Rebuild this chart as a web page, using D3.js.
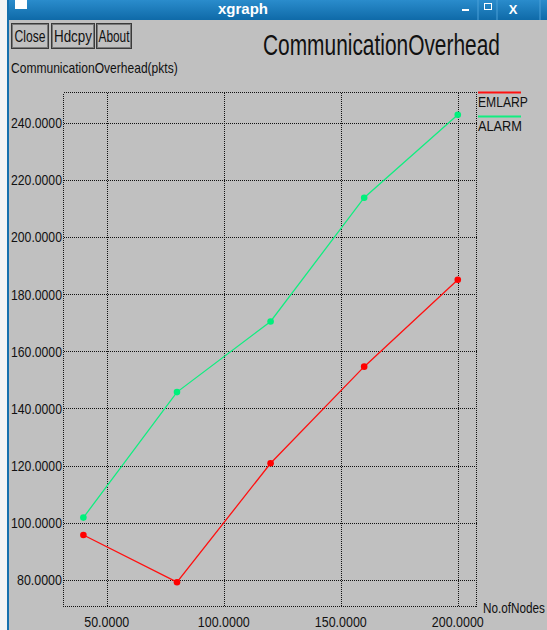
<!DOCTYPE html>
<html>
<head>
<meta charset="utf-8">
<script src="https://cdn.jsdelivr.net/npm/d3@7"></script>
<style>
  html, body { margin: 0; padding: 0; background: #f2f2f2; overflow: hidden; }
  svg { display: block; }
  text { font-family: "Liberation Sans", Arial, sans-serif; fill: #111; }
</style>
</head>
<body>
<svg id="win" width="547" height="630"></svg>
<script>
// Node counts on the x axis
const nodeCounts = [40, 80, 120, 160, 200];
// Communication overhead (packets) per protocol
const emlarp = [95.7, 79.2, 120.8, 154.6, 185.0];
const alarm  = [101.8, 145.7, 170.4, 213.7, 242.7];
const seriesNames = ["EMLARP", "ALARM"];
const seriesColors = ["#ff1010", "#10ee80"];
const xTicks = [50, 100, 150, 200];
const yTicks = [80, 100, 120, 140, 160, 180, 200, 220, 240];
const xDomain = [31.5, 208];
const yDomain = [70.7, 250.5];

const svg = d3.select("#win");
const W = 547, H = 630;

// Draws a text condensed horizontally to a given width (xgraph fonts are narrow)
function narrowText(parent, str, x, y, size, width, anchor) {
  const g = parent.append("g");
  const t = g.append("text").attr("x", 0).attr("y", 0).style("font-size", size + "px").text(str);
  const natural = t.node().getComputedTextLength();
  const sx = width / natural;
  const left = anchor === "end" ? x - width : anchor === "middle" ? x - width / 2 : x;
  g.attr("transform", `translate(${left},${y}) scale(${sx},1)`);
  return t;
}

// Window chrome
const defs = svg.append("defs");
const grad = defs.append("linearGradient").attr("id", "bar").attr("x1", 0).attr("y1", 0).attr("x2", 0).attr("y2", 1);
grad.append("stop").attr("offset", "0%").attr("stop-color", "#2a8ccc");
grad.append("stop").attr("offset", "100%").attr("stop-color", "#0f6aa8");

svg.append("rect").attr("x", 0).attr("y", 0).attr("width", W).attr("height", H).attr("fill", "#f4f4f4");
svg.append("rect").attr("x", 9).attr("y", 20).attr("width", W - 9).attr("height", H - 20).attr("fill", "#c0c0c0");
svg.append("rect").attr("x", 7).attr("y", 0).attr("width", W - 7).attr("height", 20).attr("fill", "url(#bar)");
svg.append("rect").attr("x", 7).attr("y", 0).attr("width", 2).attr("height", H).attr("fill", "#1670ad");
svg.append("rect").attr("x", 15).attr("y", 0).attr("width", 12).attr("height", 9).attr("fill", "#ffffff");
svg.append("text").attr("x", 243).attr("y", 14).attr("text-anchor", "middle")
  .style("font-size", "15px").style("font-weight", "bold").style("fill", "#fff").text("xgraph");
// title bar controls
[478, 497, 540].forEach(xp => {
  svg.append("line").attr("x1", xp).attr("x2", xp).attr("y1", 0).attr("y2", 20)
    .attr("stroke", "#4aa0d8").attr("stroke-width", 1);
});
svg.append("rect").attr("x", 462).attr("y", 9).attr("width", 7).attr("height", 2).attr("fill", "#fff");
svg.append("rect").attr("x", 484.5).attr("y", 3.5).attr("width", 7).attr("height", 6).attr("fill", "none").attr("stroke", "#fff").attr("stroke-width", 1);
svg.append("text").attr("x", 513).attr("y", 14).attr("text-anchor", "middle")
  .style("font-size", "13px").style("font-weight", "bold").style("fill", "#fff").text("X");

// Buttons
const buttons = [
  { label: "Close", x: 11, w: 37, tl: 31 },
  { label: "Hdcpy", x: 51, w: 43, tl: 38 },
  { label: "About", x: 96, w: 35, tl: 31 }
];
buttons.forEach(b => {
  svg.append("rect").attr("x", b.x + 0.5).attr("y", 23.5).attr("width", b.w).attr("height", 25)
    .attr("fill", "#c0c0c0").attr("stroke", "#3a3a3a").attr("stroke-width", 1);
  svg.append("rect").attr("x", b.x + 1.5).attr("y", 24.5).attr("width", b.w - 2).attr("height", 23)
    .attr("fill", "none").attr("stroke", "#7a7a7a").attr("stroke-width", 1);
  narrowText(svg, b.label, b.x + b.w / 2 + 0.5, 42, 16, b.tl, "middle");
});

// Titles
narrowText(svg, "CommunicationOverhead", 263, 55, 29, 237, "start");
narrowText(svg, "CommunicationOverhead(pkts)", 11, 73, 14, 167, "start");

// Scales
const x = d3.scaleLinear().domain(xDomain).range([63.5, 476.5]);
const y = d3.scaleLinear().domain(yDomain).range([606.5, 92.5]);
const [x0, x1] = x.range();
const [y0, y1] = y.range();
const fmt = d3.format(".4f");

const grid = svg.append("g").attr("shape-rendering", "crispEdges");
const dotted = sel => sel.attr("stroke", "#111").attr("stroke-width", 1).attr("stroke-dasharray", "1,1");

// Frame
grid.append("rect").attr("x", x0).attr("y", y1).attr("width", x1 - x0).attr("height", y0 - y1)
  .attr("fill", "none").call(dotted);

// Gridlines
grid.selectAll(".vg").data(xTicks).join("line").attr("class", "vg")
  .attr("x1", d => Math.round(x(d)) + 0.5).attr("x2", d => Math.round(x(d)) + 0.5)
  .attr("y1", y1).attr("y2", y0).call(dotted);
grid.selectAll(".hg").data(yTicks).join("line").attr("class", "hg")
  .attr("y1", d => Math.round(y(d)) + 0.5).attr("y2", d => Math.round(y(d)) + 0.5)
  .attr("x1", x0).attr("x2", x1).call(dotted);

// Tick labels
const yAxisLabels = svg.append("g");
yTicks.forEach(d => {
  const s = fmt(d);
  narrowText(yAxisLabels, s, 62, y(d) + 5.5, 15, s.length === 8 ? 51 : 45, "end");
});
const xAxisLabels = svg.append("g");
xTicks.forEach(d => {
  const s = fmt(d);
  narrowText(xAxisLabels, s, x(d), 627, 15, s.length === 8 ? 52 : 45, "middle");
});
narrowText(svg, "No.ofNodes", 483, 613, 15, 62, "start");

// Series
const series = [emlarp, alarm];
const line = d3.line().x((d, i) => x(nodeCounts[i])).y(d => y(d));
series.forEach((vals, s) => {
  svg.append("path").datum(vals).attr("d", line).attr("fill", "none")
    .attr("stroke", seriesColors[s]).attr("stroke-width", 1.3);
  svg.selectAll(".pt" + s).data(vals).join("circle").attr("class", "pt" + s)
    .attr("cx", (d, i) => x(nodeCounts[i])).attr("cy", d => y(d)).attr("r", 3.3)
    .attr("fill", s === 0 ? "#ff0000" : "#00f07c");
});

// Legend
const legY = [92.5, 116.5];
seriesNames.forEach((name, s) => {
  svg.append("line").attr("x1", 478).attr("x2", 521).attr("y1", legY[s]).attr("y2", legY[s])
    .attr("stroke", seriesColors[s]).attr("stroke-width", 2);
  narrowText(svg, name, 478, legY[s] + 14, 15, s === 0 ? 50 : 44, "start");
});
</script>
</body>
</html>
